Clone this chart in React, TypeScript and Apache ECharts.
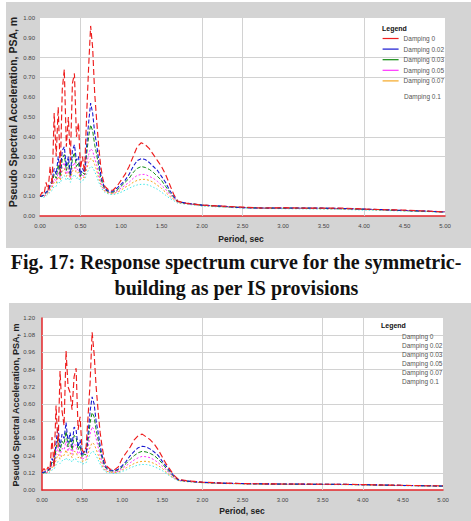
import React, { useEffect, useRef } from "react";
import * as echarts from "echarts";

// Period axis (sec), shared by both charts
const periods = [
  0, 0.025, 0.05, 0.075, 0.1, 0.125, 0.15, 0.175, 0.2,
  0.225, 0.25, 0.275, 0.3, 0.325, 0.35, 0.375, 0.4,
  0.425, 0.45, 0.475, 0.5, 0.525, 0.55, 0.575, 0.6,
  0.625, 0.65, 0.675, 0.7, 0.725, 0.75, 0.775, 0.8,
  0.85, 0.9, 0.95, 1.0, 1.05, 1.1, 1.15, 1.2,
  1.25, 1.3, 1.35, 1.4, 1.45, 1.5, 1.55, 1.6,
  1.65, 1.7, 1.8, 1.9, 2.0,
  2.25, 2.5, 2.75, 3.0, 3.25, 3.5, 3.75, 4.0, 4.25, 4.5, 4.75, 5.0,
];

const seriesNames = ["Damping 0", "Damping 0.02", "Damping 0.03", "Damping 0.05", "Damping 0.07", "Damping 0.1"];

// ---- Fig. 17 (top chart) PSA values ----
const topD0 = [
  0.10, 0.12, 0.11, 0.17, 0.13, 0.25, 0.16, 0.52, 0.30,
  0.55, 0.22, 0.64, 0.74, 0.35, 0.50, 0.28, 0.67,
  0.72, 0.40, 0.47, 0.24, 0.30, 0.22, 0.50, 0.75,
  0.96, 0.85, 0.62, 0.48, 0.35, 0.25, 0.19, 0.15,
  0.13, 0.13, 0.15, 0.18, 0.21, 0.25, 0.30, 0.35,
  0.37, 0.36, 0.34, 0.31, 0.28, 0.25, 0.21, 0.16,
  0.11, 0.075, 0.065, 0.06, 0.055,
  0.05, 0.045, 0.04, 0.042, 0.04, 0.04, 0.04, 0.035, 0.032, 0.03, 0.025, 0.02,
];
const topD02 = [
  0.10, 0.10, 0.11, 0.12, 0.13, 0.16, 0.18, 0.24, 0.21,
  0.30, 0.22, 0.33, 0.35, 0.25, 0.30, 0.21, 0.33,
  0.36, 0.28, 0.30, 0.21, 0.24, 0.22, 0.35, 0.47,
  0.57, 0.52, 0.42, 0.36, 0.28, 0.21, 0.17, 0.14,
  0.125, 0.125, 0.14, 0.16, 0.18, 0.21, 0.25, 0.28,
  0.29, 0.285, 0.27, 0.25, 0.23, 0.20, 0.17, 0.13,
  0.10, 0.075, 0.065, 0.06, 0.055,
  0.05, 0.042, 0.04, 0.04, 0.04, 0.04, 0.038, 0.035, 0.032, 0.028, 0.025, 0.02,
];
const topD03 = [
  0.10, 0.10, 0.105, 0.115, 0.125, 0.15, 0.17, 0.21, 0.19,
  0.26, 0.20, 0.29, 0.31, 0.23, 0.27, 0.20, 0.29,
  0.32, 0.25, 0.27, 0.20, 0.22, 0.21, 0.31, 0.40,
  0.46, 0.43, 0.36, 0.31, 0.25, 0.19, 0.16, 0.135,
  0.12, 0.12, 0.13, 0.15, 0.17, 0.19, 0.22, 0.24,
  0.25, 0.245, 0.235, 0.22, 0.20, 0.18, 0.15, 0.12,
  0.095, 0.072, 0.064, 0.06, 0.055,
  0.048, 0.043, 0.04, 0.04, 0.04, 0.039, 0.037, 0.034, 0.031, 0.027, 0.024, 0.02,
];
const topD05 = [
  0.10, 0.10, 0.10, 0.11, 0.12, 0.14, 0.155, 0.185, 0.175,
  0.22, 0.19, 0.25, 0.27, 0.21, 0.24, 0.19, 0.25,
  0.27, 0.23, 0.24, 0.19, 0.205, 0.20, 0.26, 0.31,
  0.34, 0.33, 0.29, 0.26, 0.21, 0.17, 0.145, 0.13,
  0.12, 0.115, 0.125, 0.14, 0.155, 0.17, 0.19, 0.205,
  0.21, 0.21, 0.20, 0.19, 0.175, 0.155, 0.135, 0.11,
  0.09, 0.07, 0.063, 0.058, 0.054,
  0.047, 0.043, 0.04, 0.04, 0.039, 0.038, 0.036, 0.034, 0.031, 0.028, 0.025, 0.022,
];
const topD07 = [
  0.10, 0.10, 0.10, 0.105, 0.115, 0.13, 0.145, 0.17, 0.165,
  0.20, 0.18, 0.225, 0.24, 0.20, 0.22, 0.185, 0.225,
  0.245, 0.215, 0.22, 0.185, 0.195, 0.195, 0.235, 0.27,
  0.29, 0.285, 0.26, 0.23, 0.19, 0.16, 0.14, 0.125,
  0.115, 0.112, 0.12, 0.13, 0.145, 0.155, 0.17, 0.18,
  0.185, 0.185, 0.18, 0.17, 0.155, 0.14, 0.12, 0.10,
  0.085, 0.068, 0.062, 0.057, 0.053,
  0.046, 0.042, 0.04, 0.039, 0.038, 0.037, 0.035, 0.033, 0.03, 0.027, 0.025, 0.022,
];
const topD10 = [
  0.10, 0.095, 0.095, 0.10, 0.11, 0.12, 0.13, 0.15, 0.15,
  0.175, 0.165, 0.195, 0.205, 0.18, 0.195, 0.17, 0.195,
  0.21, 0.19, 0.195, 0.17, 0.18, 0.185, 0.21, 0.235,
  0.25, 0.245, 0.225, 0.20, 0.17, 0.15, 0.13, 0.12,
  0.11, 0.108, 0.112, 0.12, 0.13, 0.14, 0.15, 0.157,
  0.16, 0.16, 0.155, 0.145, 0.135, 0.12, 0.105, 0.09,
  0.078, 0.065, 0.06, 0.055, 0.05,
  0.045, 0.04, 0.038, 0.037, 0.036, 0.035, 0.033, 0.03, 0.028, 0.025, 0.022, 0.02,
];

// ---- IS provisions (bottom chart) PSA values ----
const botD0 = [
  0.13, 0.15, 0.13, 0.16, 0.14, 0.37, 0.16, 0.59, 0.30,
  0.83, 0.55, 0.45, 0.97, 0.72, 0.68, 0.56, 0.79,
  0.85, 0.42, 0.51, 0.28, 0.26, 0.30, 0.52, 0.75,
  1.10, 0.95, 0.72, 0.55, 0.40, 0.30, 0.22, 0.17,
  0.145, 0.14, 0.16, 0.22, 0.26, 0.30, 0.35, 0.38,
  0.39, 0.37, 0.35, 0.32, 0.28, 0.23, 0.18, 0.14,
  0.10, 0.075, 0.065, 0.06, 0.055,
  0.048, 0.045, 0.043, 0.042, 0.042, 0.04, 0.04, 0.038, 0.035, 0.033, 0.03, 0.03,
];
const botD02 = [
  0.12, 0.125, 0.13, 0.14, 0.15, 0.22, 0.19, 0.33, 0.44,
  0.30, 0.39, 0.36, 0.47, 0.33, 0.40, 0.31, 0.44,
  0.42, 0.30, 0.35, 0.24, 0.27, 0.26, 0.40, 0.55,
  0.65, 0.60, 0.48, 0.40, 0.31, 0.24, 0.19, 0.16,
  0.14, 0.135, 0.145, 0.17, 0.20, 0.24, 0.27, 0.295,
  0.305, 0.30, 0.285, 0.265, 0.24, 0.20, 0.165, 0.13,
  0.095, 0.072, 0.063, 0.058, 0.054,
  0.048, 0.045, 0.043, 0.042, 0.041, 0.04, 0.04, 0.037, 0.035, 0.032, 0.03, 0.028,
];
const botD03 = [
  0.12, 0.12, 0.125, 0.135, 0.145, 0.20, 0.18, 0.29, 0.37,
  0.27, 0.34, 0.32, 0.41, 0.30, 0.36, 0.28, 0.38,
  0.37, 0.28, 0.31, 0.23, 0.25, 0.245, 0.35, 0.47,
  0.54, 0.51, 0.42, 0.35, 0.28, 0.22, 0.175, 0.15,
  0.135, 0.13, 0.14, 0.16, 0.185, 0.215, 0.24, 0.26,
  0.27, 0.265, 0.255, 0.24, 0.215, 0.185, 0.15, 0.12,
  0.09, 0.07, 0.062, 0.057, 0.053,
  0.047, 0.044, 0.042, 0.041, 0.04, 0.04, 0.039, 0.037, 0.034, 0.032, 0.03, 0.027,
];
const botD05 = [
  0.12, 0.12, 0.12, 0.13, 0.14, 0.18, 0.17, 0.25, 0.30,
  0.24, 0.29, 0.28, 0.34, 0.27, 0.31, 0.25, 0.32,
  0.31, 0.25, 0.27, 0.21, 0.225, 0.225, 0.30, 0.39,
  0.44, 0.42, 0.36, 0.30, 0.24, 0.19, 0.16, 0.14,
  0.13, 0.125, 0.13, 0.15, 0.17, 0.19, 0.21, 0.225,
  0.235, 0.232, 0.225, 0.21, 0.19, 0.165, 0.14, 0.11,
  0.085, 0.068, 0.061, 0.056, 0.052,
  0.047, 0.044, 0.042, 0.041, 0.04, 0.04, 0.039, 0.037, 0.034, 0.031, 0.029, 0.027,
];
const botD07 = [
  0.12, 0.118, 0.118, 0.125, 0.135, 0.16, 0.16, 0.21, 0.25,
  0.215, 0.245, 0.24, 0.28, 0.24, 0.26, 0.225, 0.27,
  0.265, 0.225, 0.235, 0.20, 0.205, 0.21, 0.255, 0.30,
  0.33, 0.32, 0.285, 0.245, 0.205, 0.17, 0.145, 0.13,
  0.125, 0.12, 0.125, 0.14, 0.155, 0.17, 0.185, 0.195,
  0.20, 0.20, 0.195, 0.185, 0.17, 0.15, 0.125, 0.10,
  0.082, 0.066, 0.06, 0.055, 0.051,
  0.046, 0.043, 0.041, 0.04, 0.04, 0.039, 0.038, 0.036, 0.033, 0.031, 0.029, 0.027,
];
const botD10 = [
  0.12, 0.115, 0.115, 0.12, 0.125, 0.14, 0.145, 0.175, 0.20,
  0.185, 0.205, 0.205, 0.225, 0.205, 0.215, 0.195, 0.22,
  0.215, 0.195, 0.20, 0.18, 0.185, 0.19, 0.22, 0.25,
  0.27, 0.265, 0.24, 0.21, 0.18, 0.155, 0.135, 0.125,
  0.12, 0.115, 0.12, 0.13, 0.14, 0.155, 0.165, 0.175,
  0.178, 0.178, 0.172, 0.163, 0.15, 0.135, 0.115, 0.095,
  0.078, 0.064, 0.058, 0.054, 0.05,
  0.045, 0.042, 0.04, 0.04, 0.039, 0.038, 0.037, 0.035, 0.032, 0.03, 0.028, 0.026,
];

// Visible grid lines (values on the axes)
const topGridX = [0.5, 2.0, 2.5, 4.0];
const topGridY = [0.3, 0.4, 0.7, 0.8];
const botGridX = [0.5, 2.0, 3.5, 4.0];
const botGridY = [0.12, 0.48, 0.6, 0.84, 0.96, 1.08];

const lineStyles = [
  { color: "#ee1c1c", width: 1.15, type: [6, 3] },
  { color: "#1515d0", width: 1.05, type: [4, 2] },
  { color: "#108a10", width: 1, type: [4, 2] },
  { color: "#ff30ff", width: 1, type: [2, 2] },
  { color: "#f5a623", width: 1, type: [2, 2] },
  { color: "#40e8e8", width: 1, type: [1.5, 2] },
];
const zOrder = [8, 7, 6, 5, 4, 3];

const AXIS_RED = "#e4262a";
const FONT = "Liberation Sans";

function buildSeries(gridIdx: number, arrays: number[][], gx: number[], gy: number[]) {
  const list: any[] = [
    {
      type: "line",
      name: "__grid" + gridIdx,
      xAxisIndex: gridIdx,
      yAxisIndex: gridIdx,
      data: [],
      silent: true,
      z: 1,
      markLine: {
        silent: true,
        symbol: ["none", "none"],
        label: { show: false },
        z: 1,
        lineStyle: { color: "#d2d2d2", width: 1, type: "solid" },
        data: [...gx.map((v) => ({ xAxis: v })), ...gy.map((v) => ({ yAxis: v }))],
      },
    },
  ];
  arrays.forEach((vals, i) => {
    list.push({
      type: "line",
      name: seriesNames[i],
      xAxisIndex: gridIdx,
      yAxisIndex: gridIdx,
      data: periods.map((p, j) => [p, vals[j]]),
      symbol: "none",
      showSymbol: false,
      silent: true,
      z: zOrder[i],
      lineStyle: { ...lineStyles[i] },
      itemStyle: { color: lineStyles[i].color },
    });
  });
  return list;
}

export default function App() {
  const ref = useRef<HTMLDivElement>(null);
  useEffect(() => {
    if (!ref.current) return;
    const chart = echarts.init(ref.current, null, { renderer: "svg" });

    const axisLabel = (margin: number) => ({
      fontSize: 6,
      color: "#444",
      fontFamily: FONT,
      margin,
      formatter: (v: number) => v.toFixed(2),
    });

    const legendText = { fontSize: 6.5, color: "#555555", fontFamily: FONT };

    const option: any = {
      animation: false,
      backgroundColor: "#ffffff",
      grid: [
        { left: 40, top: 18, width: 405, height: 198, show: true, backgroundColor: "#ffffff", borderWidth: 0 },
        { left: 42, top: 318, width: 401, height: 172, show: true, backgroundColor: "#ffffff", borderWidth: 0 },
      ],
      xAxis: [
        {
          type: "value", gridIndex: 0, min: 0, max: 5, interval: 0.5,
          axisLine: { show: true, onZero: false, lineStyle: { color: AXIS_RED, width: 1.5 } },
          axisTick: { show: false },
          splitLine: { show: false },
          axisLabel: axisLabel(7),
        },
        {
          type: "value", gridIndex: 1, min: 0, max: 5, interval: 0.5,
          axisLine: { show: true, onZero: false, lineStyle: { color: AXIS_RED, width: 1.5 } },
          axisTick: { show: false },
          splitLine: { show: false },
          axisLabel: axisLabel(7),
        },
      ],
      yAxis: [
        {
          type: "value", gridIndex: 0, min: 0, max: 1, interval: 0.1,
          axisLine: { show: false },
          axisTick: { show: false },
          splitLine: { show: false },
          axisLabel: axisLabel(5),
        },
        {
          type: "value", gridIndex: 1, min: 0, max: 1.2, interval: 0.12,
          axisLine: { show: true, onZero: false, lineStyle: { color: AXIS_RED, width: 1.5 } },
          axisTick: { show: false },
          splitLine: { show: false },
          axisLabel: axisLabel(7),
        },
      ],
      legend: [
        {
          orient: "vertical",
          left: 382,
          top: 35,
          padding: 0,
          itemWidth: 16,
          itemHeight: 8,
          itemGap: 3.6,
          selectedMode: false,
          textStyle: legendText,
          itemStyle: { opacity: 0 },
          lineStyle: { type: "solid", width: 1.2, opacity: 1 },
          data: seriesNames.slice(0, 5).map((n) => ({ name: n, textStyle: legendText })),
        },
        {
          orient: "vertical",
          left: 382,
          top: 92.5,
          padding: 0,
          itemWidth: 16,
          itemHeight: 8,
          itemGap: 3.6,
          selectedMode: false,
          textStyle: legendText,
          itemStyle: { opacity: 0 },
          lineStyle: { opacity: 0 },
          data: [{ name: seriesNames[5], textStyle: legendText }],
        },
        {
          orient: "vertical",
          left: 380,
          top: 332.5,
          padding: 0,
          itemWidth: 16,
          itemHeight: 8,
          itemGap: 2,
          selectedMode: false,
          textStyle: legendText,
          itemStyle: { opacity: 0 },
          lineStyle: { opacity: 0 },
          data: seriesNames.map((n) => ({ name: n, textStyle: legendText })),
        },
      ],
      graphic: [
        { type: "rect", z: -100, silent: true, shape: { x: 6, y: 2, width: 465, height: 246 }, style: { fill: "#d4d4d4" } },
        { type: "rect", z: -100, silent: true, shape: { x: 9, y: 303, width: 462, height: 218 }, style: { fill: "#d4d4d4" } },
        {
          type: "text", x: 236, y: 262, silent: true,
          style: { text: "Fig. 17: Response spectrum curve for the symmetric-", font: 'bold 20px "Liberation Serif"', fill: "#111", textAlign: "center", textVerticalAlign: "middle", align: "center", verticalAlign: "middle" },
        },
        {
          type: "text", x: 236.5, y: 288, silent: true,
          style: { text: "building as per IS provisions", font: 'bold 20px "Liberation Serif"', fill: "#111", textAlign: "center", textVerticalAlign: "middle", align: "center", verticalAlign: "middle" },
        },
        {
          type: "text", x: 241, y: 238.5, silent: true,
          style: { text: "Period, sec", font: 'bold 8.5px "Liberation Sans"', fill: "#222", textAlign: "center", textVerticalAlign: "middle", align: "center", verticalAlign: "middle" },
        },
        {
          type: "text", x: 242, y: 511, silent: true,
          style: { text: "Period, sec", font: 'bold 8.5px "Liberation Sans"', fill: "#222", textAlign: "center", textVerticalAlign: "middle", align: "center", verticalAlign: "middle" },
        },
        {
          type: "text", x: 12.5, y: 112, rotation: Math.PI / 2, silent: true,
          style: { text: "Pseudo Spectral Acceleration, PSA, m", font: 'bold 10.5px "Liberation Sans"', fill: "#222", textAlign: "center", textVerticalAlign: "middle", align: "center", verticalAlign: "middle" },
        },
        {
          type: "text", x: 16, y: 405, rotation: Math.PI / 2, silent: true,
          style: { text: "Pseudo Spectral Acceleration, PSA, m", font: 'bold 9px "Liberation Sans"', fill: "#222", textAlign: "center", textVerticalAlign: "middle", align: "center", verticalAlign: "middle" },
        },
        {
          type: "text", x: 382, y: 28, silent: true,
          style: { text: "Legend", font: 'bold 7px "Liberation Sans"', fill: "#111", textAlign: "left", textVerticalAlign: "middle", align: "left", verticalAlign: "middle" },
        },
        {
          type: "text", x: 381, y: 325, silent: true,
          style: { text: "Legend", font: 'bold 7px "Liberation Sans"', fill: "#111", textAlign: "left", textVerticalAlign: "middle", align: "left", verticalAlign: "middle" },
        },
      ],
      series: [
        ...buildSeries(0, [topD0, topD02, topD03, topD05, topD07, topD10], topGridX, topGridY),
        ...buildSeries(1, [botD0, botD02, botD03, botD05, botD07, botD10], botGridX, botGridY),
      ],
    };
    chart.setOption(option);
    return () => chart.dispose();
  }, []);

  return (
    <div
      ref={ref}
      style={{ position: "fixed", left: 0, top: 0, width: 471, height: 521 }}
    />
  );
}
